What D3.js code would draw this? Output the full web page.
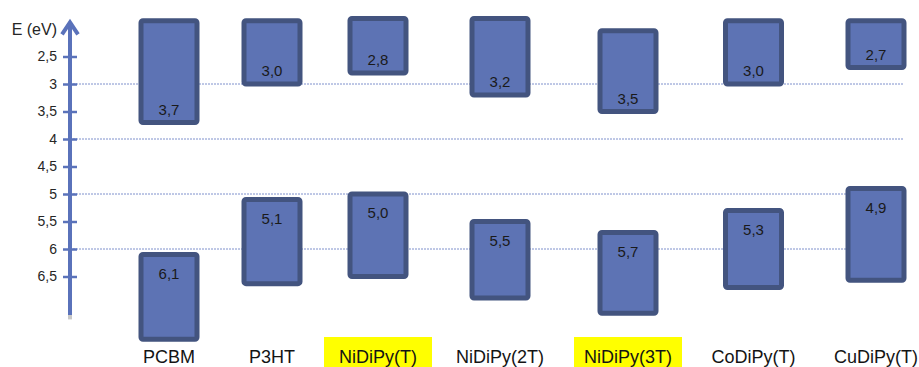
<!DOCTYPE html>
<html>
<head>
<meta charset="utf-8">
<script src="https://cdn.jsdelivr.net/npm/d3@7"></script>
<style>
  html, body { margin: 0; padding: 0; background: #fff; }
  svg { display: block; font-family: "Liberation Sans", Arial, sans-serif; }
</style>
</head>
<body>
<svg id="chart" width="919" height="367"></svg>
<script>
// Energy levels (eV) of acceptor / donor materials
const materials = ["PCBM", "P3HT", "NiDiPy(T)", "NiDiPy(2T)", "NiDiPy(3T)", "CoDiPy(T)", "CuDiPy(T)"];
const lumo = [3.7, 3.0, 2.8, 3.2, 3.5, 3.0, 2.7];
const homo = [6.1, 5.1, 5.0, 5.5, 5.7, 5.3, 4.9];
// Far edges of the level boxes (eV)
const lumoBoxTop = [1.85, 1.85, 1.81, 1.81, 2.03, 1.85, 1.85];
const homoBoxBottom = [7.64, 6.63, 6.50, 6.89, 7.17, 6.70, 6.57];
const highlighted = ["NiDiPy(T)", "NiDiPy(3T)"];

const tickValues = [2.5, 3, 3.5, 4, 4.5, 5, 5.5, 6, 6.5];
const tickLabels = ["2,5", "3", "3,5", "4", "4,5", "5", "5,5", "6", "6,5"];
const gridValues = [3, 4, 5, 6];
const axisTitle = "E (eV)";

const svg = d3.select("#chart");

const y = d3.scaleLinear().domain([2.5, 6.5]).range([56.5, 276.5]);
const x = d3.scaleOrdinal().domain(materials).range([169, 272, 378, 500, 628, 753.5, 876]);

const fmt = d3.formatLocale({ decimal: ",", thousands: ".", grouping: [3], currency: ["", ""] }).format(".1f");

const axisX = 70;
const fillColor = "#5d73b4";
const strokeColor = "#43547f";
const axisColor = "#5a72ba";

// dashed reference lines
svg.append("g").selectAll("line").data(gridValues).join("line")
  .attr("x1", axisX).attr("x2", 903)
  .attr("y1", d => y(d)).attr("y2", d => y(d))
  .attr("stroke", "#7f90cc").attr("stroke-width", 1)
  .attr("stroke-dasharray", "2,1");

// vertical energy axis
const axisG = svg.append("g").attr("transform", `translate(${axisX + 7},0)`)
  .call(d3.axisLeft(y).tickValues(tickValues).tickSize(14).tickPadding(6)
    .tickFormat((d, i) => tickLabels[i]));
axisG.select(".domain").remove();
axisG.selectAll(".tick line").attr("stroke", axisColor).attr("stroke-width", 2.5);
axisG.selectAll(".tick text").attr("fill", "#262626").style("font-size", "14px")
  .style("font-family", "'Liberation Sans', Arial, sans-serif");

svg.append("line")
  .attr("x1", axisX).attr("x2", axisX)
  .attr("y1", y(7.2)).attr("y2", y(7.28))
  .attr("stroke", "#c8c8c8").attr("stroke-width", 4);
svg.append("line")
  .attr("x1", axisX).attr("x2", axisX)
  .attr("y1", y(1.88)).attr("y2", y(7.2))
  .attr("stroke", axisColor).attr("stroke-width", 4);
svg.append("path")
  .attr("d", `M${axisX - 8},${y(1.88) + 12} L${axisX},${y(1.88)} L${axisX + 8},${y(1.88) + 12}`)
  .attr("fill", "none").attr("stroke", axisColor).attr("stroke-width", 4)
  .attr("stroke-linejoin", "miter").attr("stroke-linecap", "butt");

svg.append("text")
  .attr("x", 57).attr("y", 35)
  .attr("text-anchor", "end")
  .attr("fill", "#262626").style("font-size", "16px")
  .text(axisTitle);

const boxW = 56;
const rows = materials.map((m, i) => ({
  name: m, lumo: lumo[i], homo: homo[i], top: lumoBoxTop[i], bottom: homoBoxBottom[i]
}));

// LUMO boxes
const lumoG = svg.append("g").selectAll("g").data(rows).join("g");
lumoG.append("rect")
  .attr("x", d => x(d.name) - boxW / 2)
  .attr("y", d => y(d.top))
  .attr("width", boxW)
  .attr("height", d => y(d.lumo) - y(d.top))
  .attr("rx", 2)
  .attr("fill", fillColor).attr("stroke", strokeColor).attr("stroke-width", 5);
lumoG.append("text")
  .attr("x", d => x(d.name))
  .attr("y", d => y(d.lumo) - 13)
  .attr("dy", "0.35em")
  .attr("text-anchor", "middle")
  .attr("fill", "#1a1a1a").style("font-size", "15px")
  .text(d => fmt(d.lumo));

// HOMO boxes
const homoG = svg.append("g").selectAll("g").data(rows).join("g");
homoG.append("rect")
  .attr("x", d => x(d.name) - boxW / 2)
  .attr("y", d => y(d.homo))
  .attr("width", boxW)
  .attr("height", d => y(d.bottom) - y(d.homo))
  .attr("rx", 2)
  .attr("fill", fillColor).attr("stroke", strokeColor).attr("stroke-width", 5);
homoG.append("text")
  .attr("x", d => x(d.name))
  .attr("y", d => y(d.homo) + 19)
  .attr("dy", "0.35em")
  .attr("text-anchor", "middle")
  .attr("fill", "#1a1a1a").style("font-size", "15px")
  .text(d => fmt(d.homo));

// material names, with highlight behind selected ones
const labelG = svg.append("g").selectAll("g").data(materials).join("g")
  .attr("transform", d => `translate(${x(d)},0)`);
labelG.filter(d => highlighted.includes(d)).append("rect")
  .attr("x", -54).attr("y", 337).attr("width", 108).attr("height", 30)
  .attr("fill", "#ffff00");
labelG.append("text")
  .attr("y", 363)
  .attr("text-anchor", "middle")
  .attr("fill", "#141414").style("font-size", "18px")
  .text(d => d);
</script>
</body>
</html>
